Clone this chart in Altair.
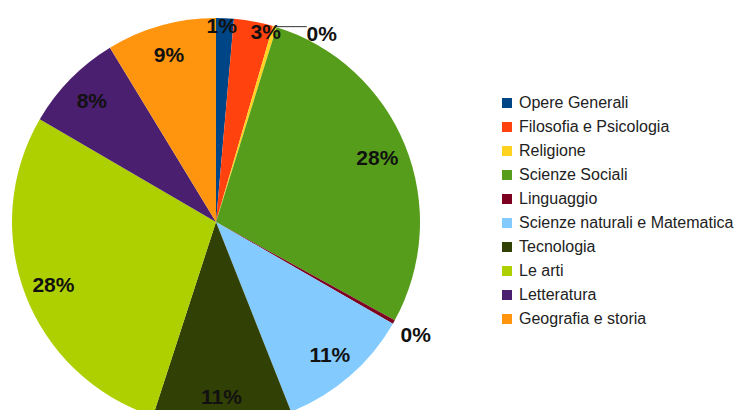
import altair as alt
import pandas as pd

categories = ["Opere Generali", "Filosofia e Psicologia", "Religione", "Scienze Sociali",
              "Linguaggio", "Scienze naturali e Matematica", "Tecnologia", "Le arti",
              "Letteratura", "Geografia e storia"]
values = [1.4, 3.1, 0.3, 28.2, 0.3, 10.7, 11.0, 28.4, 7.9, 8.7]
colors = ["#004586", "#ff420e", "#ffd320", "#579d1c", "#7e0021",
          "#83caff", "#314004", "#aecf00", "#4b1f6f", "#ff950e"]

df = pd.DataFrame({"cat": categories, "val": values, "idx": list(range(len(categories)))})

CX, CY, R = 208, 214, 204

base = alt.Chart(df)

pie = base.mark_arc(outerRadius=R).encode(
    theta=alt.Theta("val:Q", stack=True),
    order=alt.Order("idx:Q"),
    color=alt.Color("cat:N", sort=categories,
                    scale=alt.Scale(domain=categories, range=colors),
                    legend=alt.Legend(title=None, orient="none", legendX=491, legendY=87,
                                      symbolType="square", symbolSize=100,
                                      symbolStrokeWidth=0,
                                      labelFont="Liberation Sans", labelFontSize=16,
                                      labelColor="#222", labelOffset=4,
                                      rowPadding=8, labelLimit=300)),
    x=alt.value(CX), y=alt.value(CY),
)

calc = base.transform_window(
    cum="sum(val)", sort=[alt.SortField("idx")]
).transform_joinaggregate(
    tot="sum(val)"
).transform_calculate(
    pct="datum.val / datum.tot",
    mid="(datum.cum - datum.val / 2) / datum.tot * 2 * PI",
).transform_calculate(
    leader="datum.pct < 0.005 && datum.mid < PI / 2",
    small="datum.pct >= 0.005 && datum.pct < 0.05",
    r="datum.pct < 0.005 ? 229 : (datum.pct < 0.05 ? 197 : 174)",
).transform_calculate(
    ang="datum.small ? datum.mid + (datum.pct > 0.02 ? 0.07 : -0.015) : datum.mid",
    ex=f"{CX} + {R} * sin(datum.mid)",
    ey=f"{CY} - {R} * cos(datum.mid)",
).transform_calculate(
    lx=f"datum.leader ? datum.ex + 32 + 15 : {CX} + datum.r * sin(datum.ang)",
    ly=f"datum.leader ? datum.ey + 8 : {CY} - datum.r * cos(datum.ang) + 2",
    ex2="datum.ex + 32",
    label="format(datum.pct, '.0%')",
)

labels = calc.mark_text(font="Liberation Sans", fontSize=21, fontWeight="bold",
                        color="#111", align="center", baseline="middle").encode(
    x=alt.X("lx:Q", scale=None, axis=None),
    y=alt.Y("ly:Q", scale=None, axis=None),
    text="label:N",
)

leader = calc.transform_filter("datum.leader").mark_rule(color="#333", strokeWidth=1).encode(
    x=alt.X("ex:Q", scale=None, axis=None),
    x2="ex2:Q",
    y=alt.Y("ey:Q", scale=None, axis=None),
)

chart = alt.layer(pie, leader, labels).properties(
    width=729, height=402, padding=0, autosize="none"
).configure_view(stroke=None)

chart.save("out.html", embed_options={"renderer": "svg", "actions": False})
